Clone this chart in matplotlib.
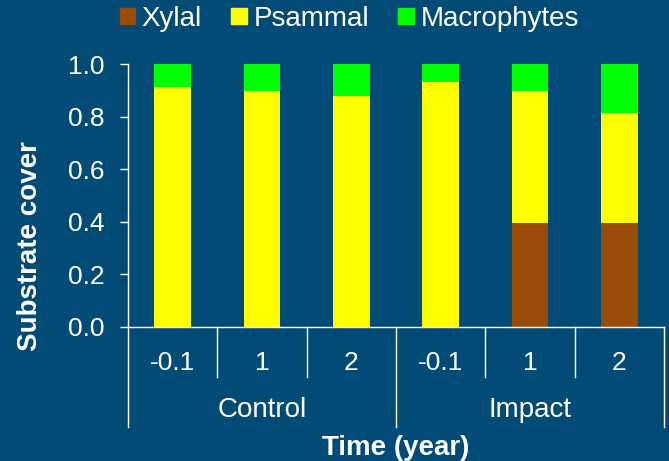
import matplotlib
matplotlib.use("Agg")
import matplotlib.pyplot as plt
from matplotlib.patches import Patch
import matplotlib.transforms as mtransforms

# datos
groups = ["Control", "Impact"]
times = ["-0.1", "1", "2"]
xylal = [0.0, 0.0, 0.0, 0.0, 0.395, 0.395]
psammal = [0.913, 0.896, 0.880, 0.930, 0.501, 0.419]
macrophytes = [0.087, 0.104, 0.120, 0.070, 0.104, 0.186]

bg = "#034B77"
c_xyl = "#994C05"
c_psa = "#FFFF00"
c_mac = "#00FF00"

plt.rcParams["font.family"] = ["Liberation Sans", "DejaVu Sans"]

fig = plt.figure(figsize=(6.69, 4.61), dpi=100, facecolor=bg)
ax = fig.add_axes([128 / 669, 1 - 327 / 461, 536 / 669, 263 / 461])
ax.set_facecolor(bg)

x = list(range(len(xylal)))
base2 = [a + b for a, b in zip(xylal, psammal)]
w = 0.41
ax.bar(x, xylal, width=w, color=c_xyl)
ax.bar(x, psammal, width=w, bottom=xylal, color=c_psa)
ax.bar(x, macrophytes, width=w, bottom=base2, color=c_mac)

ax.set_xlim(-0.5, len(x) - 0.5)
ax.set_ylim(0, 1.0)
ax.set_yticks([0, 0.2, 0.4, 0.6, 0.8, 1.0])
ax.set_yticklabels(["0.0", "0.2", "0.4", "0.6", "0.8", "1.0"])

# eje x de dos niveles
ax.set_xticks(x)
ax.set_xticklabels(times * len(groups))
ax.tick_params(axis="x", length=0, pad=17, colors="white", labelsize=19)
ax.tick_params(axis="y", length=6, width=1, colors="white", labelsize=19, pad=11)

for s in ["top", "right"]:
    ax.spines[s].set_visible(False)
for s in ["left", "bottom"]:
    ax.spines[s].set_color("white")
    ax.spines[s].set_linewidth(1)

trans = mtransforms.blended_transform_factory(ax.transData, ax.transAxes)
n = len(times)
for i in range(len(x) + 1):
    depth = -0.38 if i % n == 0 else -0.19
    ax.plot([i - 0.5, i - 0.5], [0, depth], color="white", lw=1,
            transform=trans, clip_on=False)
for g, name in enumerate(groups):
    ax.text(g * n + (n - 1) / 2, -0.315, name, transform=trans, ha="center",
            va="center", color="white", fontsize=20)

ax.text(0.5, -0.46, "Time (year)", transform=ax.transAxes, ha="center",
        va="center", color="white", fontsize=20, fontweight="bold")
fig.text(30 / 669, 1 - 246 / 461, "Substrate cover", rotation=90,
         ha="center", va="center", color="white", fontsize=20,
         fontweight="bold")

handles = [Patch(color=c_xyl, label="Xylal"),
           Patch(color=c_psa, label="Psammal"),
           Patch(color=c_mac, label="Macrophytes")]
leg = fig.legend(handles=handles, loc="center", bbox_to_anchor=(0.522, 0.959),
                 ncol=3, frameon=False, fontsize=20, handlelength=0.55,
                 handleheight=0.55, handletextpad=0.25, columnspacing=1.05)
for t in leg.get_texts():
    t.set_color("white")

fig.savefig("out.png", dpi=100, facecolor=bg)
